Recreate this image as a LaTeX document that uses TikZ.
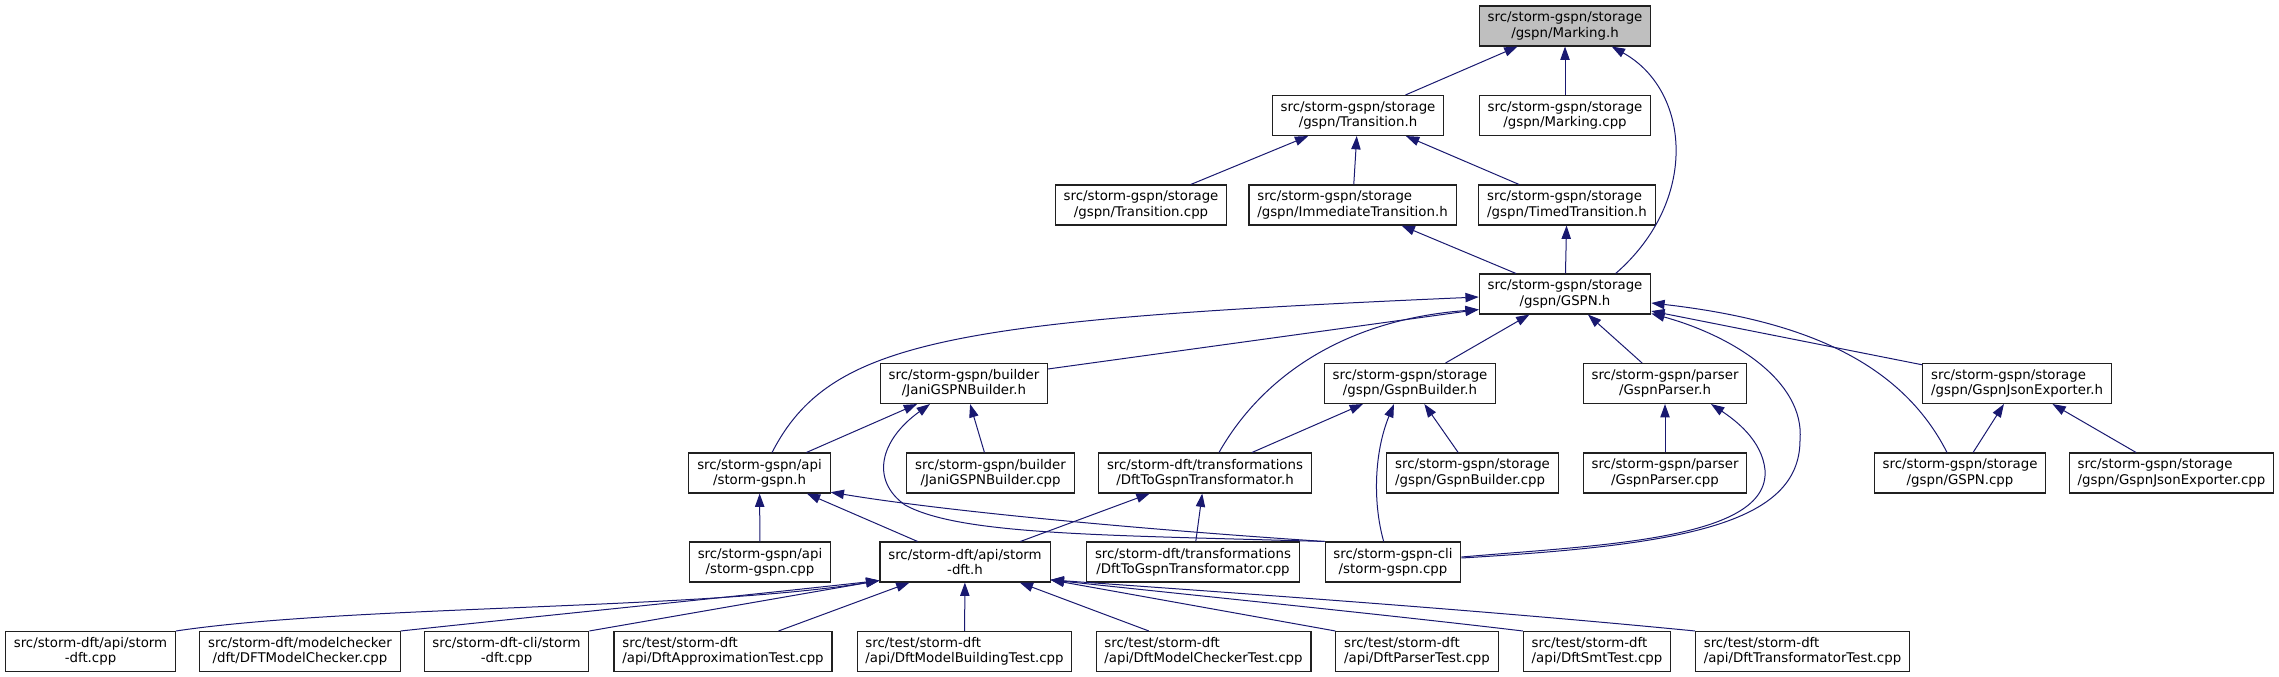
\documentclass[tikz,border=0pt]{standalone}
\usepackage{fontspec}
\setmainfont{DejaVu Sans}
\usepackage{tikz}
\usetikzlibrary{arrows.meta}
\definecolor{DXEdge}{HTML}{191970}
\definecolor{DXRoot}{HTML}{BFBFBF}
\definecolor{DXBorder}{HTML}{202020}

\begin{document}
\begin{tikzpicture}[x=0.75pt,y=-0.75pt,
  file/.style={draw=DXBorder,line width=0.8pt,fill=white,inner xsep=6.25pt,inner ysep=0pt,
    minimum height=30pt,align=center,font=\fontsize{10pt}{11.5pt}\selectfont},
  fileL/.style={file,align=left},
  dep/.style={DXEdge,line width=0.75pt,-{Triangle[length=10pt,width=7pt]}}]
\path[use as bounding box] (0,0) rectangle (2279,677);
\node[file,fill=DXRoot] (markingH) at (1565,26) {src/storm-gspn/storage\\/gspn/Marking.h};
\node[file] (transitionH) at (1358,115.5) {src/storm-gspn/storage\\/gspn/Transition.h};
\node[file] (markingCpp) at (1565,115.5) {src/storm-gspn/storage\\/gspn/Marking.cpp};
\node[file] (transitionCpp) at (1141,205) {src/storm-gspn/storage\\/gspn/Transition.cpp};
\node[fileL] (immediateH) at (1352.5,205) {src/storm-gspn/storage\\/gspn/ImmediateTransition.h};
\node[fileL] (timedH) at (1567,205) {src/storm-gspn/storage\\/gspn/TimedTransition.h};
\node[file] (gspnH) at (1565,294) {src/storm-gspn/storage\\/gspn/GSPN.h};
\node[file] (janiH) at (964,383.5) {src/storm-gspn/builder\\/JaniGSPNBuilder.h};
\node[file] (builderH) at (1410,383.5) {src/storm-gspn/storage\\/gspn/GspnBuilder.h};
\node[file] (parserH) at (1665,383.5) {src/storm-gspn/parser\\/GspnParser.h};
\node[fileL] (exporterH) at (2017,383.5) {src/storm-gspn/storage\\/gspn/GspnJsonExporter.h};
\node[file] (apiH) at (759.5,473) {src/storm-gspn/api\\/storm-gspn.h};
\node[file] (janiCpp) at (990.5,473) {src/storm-gspn/builder\\/JaniGSPNBuilder.cpp};
\node[file] (dftToGspnH) at (1205,473) {src/storm-dft/transformations\\/DftToGspnTransformator.h};
\node[fileL] (builderCpp) at (1472.5,473) {src/storm-gspn/storage\\/gspn/GspnBuilder.cpp};
\node[file] (parserCpp) at (1665,473) {src/storm-gspn/parser\\/GspnParser.cpp};
\node[file] (gspnCpp) at (1960,473) {src/storm-gspn/storage\\/gspn/GSPN.cpp};
\node[fileL] (exporterCpp) at (2171.5,473) {src/storm-gspn/storage\\/gspn/GspnJsonExporter.cpp};
\node[file] (apiCpp) at (760,562) {src/storm-gspn/api\\/storm-gspn.cpp};
\node[file] (dftApiH) at (965,562) {src/storm-dft/api/storm\\-dft.h};
\node[file] (dftToGspnCpp) at (1193,562) {src/storm-dft/transformations\\/DftToGspnTransformator.cpp};
\node[file] (cliCpp) at (1393,562) {src/storm-gspn-cli\\/storm-gspn.cpp};
\node[file] (dftApiCpp) at (90.5,651.5) {src/storm-dft/api/storm\\-dft.cpp};
\node[file] (dftCheckerCpp) at (300,651.5) {src/storm-dft/modelchecker\\/dft/DFTModelChecker.cpp};
\node[file] (dftCliCpp) at (506.5,651.5) {src/storm-dft-cli/storm\\-dft.cpp};
\node[fileL] (approxTest) at (723,651.5) {src/test/storm-dft\\/api/DftApproximationTest.cpp};
\node[fileL] (buildingTest) at (964.5,651.5) {src/test/storm-dft\\/api/DftModelBuildingTest.cpp};
\node[fileL] (checkerTest) at (1203.5,651.5) {src/test/storm-dft\\/api/DftModelCheckerTest.cpp};
\node[fileL] (parserTest) at (1417,651.5) {src/test/storm-dft\\/api/DftParserTest.cpp};
\node[fileL] (smtTest) at (1597,651.5) {src/test/storm-dft\\/api/DftSmtTest.cpp};
\node[fileL] (transfTest) at (1802.5,651.5) {src/test/storm-dft\\/api/DftTransformatorTest.cpp};
\draw[dep] (transitionH) -- (markingH);
\draw[dep] (markingCpp) -- (markingH);
\draw[dep] ([xshift=38pt]gspnH.north) .. controls (1700,200) and (1690,90) .. ([xshift=35pt]markingH.south);
\draw[dep] (transitionCpp) -- (transitionH);
\draw[dep] (immediateH) -- (transitionH);
\draw[dep] (timedH) -- (transitionH);
\draw[dep] (gspnH) -- (immediateH);
\draw[dep] (gspnH) -- (timedH);
\draw[dep] ([xshift=9.4pt]apiH.north) .. controls (830,340) and (950,320) .. ([yshift=-2.25pt]gspnH.west);
\draw[dep] ([yshift=-4.5pt]janiH.north east) -- ([yshift=3.75pt]gspnH.south west);
\draw[dep] ([xshift=10.5pt]dftToGspnH.north) .. controls (1260,380) and (1340,320) .. ([yshift=3.75pt]gspnH.south west);
\draw[dep] (builderH) -- (gspnH);
\draw[dep] (parserH) -- (gspnH);
\draw[dep] ([yshift=3pt]cliCpp.east) .. controls (1680,545) and (1800,525) .. (1800,440) .. controls (1805,380) and (1730,335) .. ([yshift=0.75pt]gspnH.south east);
\draw[dep] ([xshift=-9.75pt]gspnCpp.north) .. controls (1900,360) and (1800,320) .. ([yshift=-6.75pt]gspnH.east);
\draw[dep] (exporterH) -- (gspnH);
\draw[dep] (apiH) -- (janiH);
\draw[dep] (cliCpp.north west) .. controls (1100,535) and (960,535) .. (905,505) .. controls (870,480) and (880,440) .. ([xshift=-25.5pt]janiH.south);
\draw[dep] (janiCpp) -- (janiH);
\draw[dep] (dftToGspnH) -- (builderH);
\draw[dep] ([xshift=-7pt]cliCpp.north) .. controls (1372,500) and (1375,450) .. ([xshift=-12pt]builderH.south);
\draw[dep] (builderCpp) -- (builderH);
\draw[dep] (parserCpp) -- (parserH);
\draw[dep] ([yshift=3.75pt]cliCpp.east) .. controls (1600,545) and (1770,540) .. (1765,470) .. controls (1762,440) and (1735,420) .. ([xshift=34.5pt]parserH.south);
\draw[dep] (gspnCpp) -- (exporterH);
\draw[dep] (exporterCpp) -- (exporterH);
\draw[dep] (apiCpp) -- (apiH);
\draw[dep] (dftApiH) -- (apiH);
\draw[dep] (cliCpp.north west) .. controls (1150,530) and (950,512) .. ([yshift=1pt]apiH.south east);
\draw[dep] (dftApiH) -- (dftToGspnH);
\draw[dep] (dftToGspnCpp) -- (dftToGspnH);
\draw[dep] (dftApiCpp.north east) .. controls (350,605) and (700,610) .. ([yshift=1.5pt]dftApiH.south west);
\draw[dep] (dftCheckerCpp.north east) .. controls (550,615) and (750,595) .. ([yshift=1.5pt]dftApiH.south west);
\draw[dep] (dftCliCpp.north east) -- ([yshift=1.5pt]dftApiH.south west);
\draw[dep] (approxTest) -- (dftApiH);
\draw[dep] (buildingTest) -- (dftApiH);
\draw[dep] (checkerTest) -- (dftApiH);
\draw[dep] (parserTest.north west) -- ([yshift=2pt]dftApiH.south east);
\draw[dep] (smtTest.north west) .. controls (1380,614) and (1200,596) .. ([yshift=2pt]dftApiH.south east);
\draw[dep] (transfTest.north west) .. controls (1480,610) and (1250,594) .. ([yshift=2pt]dftApiH.south east);
\end{tikzpicture}
\end{document}
